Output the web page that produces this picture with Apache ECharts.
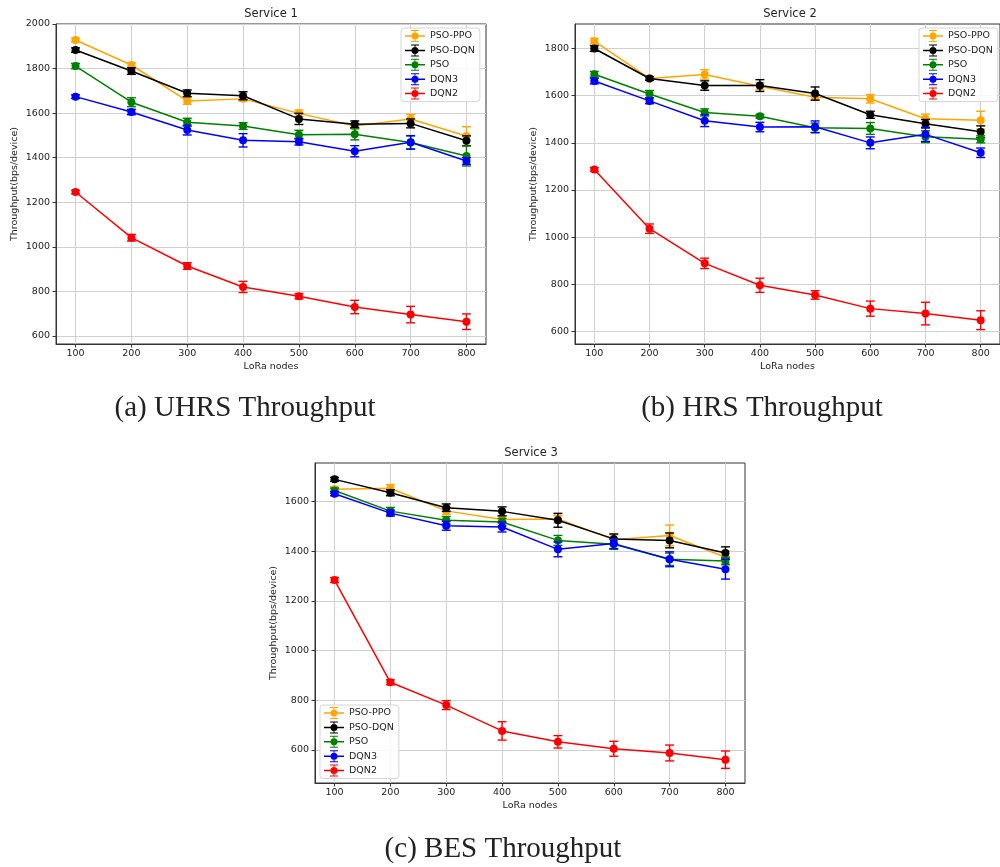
<!DOCTYPE html>
<html>
<head>
<meta charset="utf-8">
<script src="https://cdn.jsdelivr.net/npm/echarts@6/dist/echarts.min.js"></script>
<style>
  html, body { margin: 0; padding: 0; background: #fff; }
  #chart { width: 1000px; height: 867px; }
</style>
</head>
<body>
<div id="chart"></div>
<script>
// LoRa nodes on the x axis
const nodes = [100, 200, 300, 400, 500, 600, 700, 800];
const methods = ['PSO-PPO', 'PSO-DQN', 'PSO', 'DQN3', 'DQN2'];
const xTicks = [100, 200, 300, 400, 500, 600, 700, 800];
const yTicks1 = [600, 800, 1000, 1200, 1400, 1600, 1800, 2000];
const yTicks2 = [600, 800, 1000, 1200, 1400, 1600, 1800];
const yTicks3 = [600, 800, 1000, 1200, 1400, 1600];

// Service 1 (UHRS) - mean and error
const s1PsoPpo = [1928, 1816, 1655, 1664, 1599, 1542, 1574, 1497];
const s1PsoPpoErr = [8, 10, 15, 10, 15, 10, 20, 42];
const s1PsoDqn = [1883, 1789, 1689, 1678, 1574, 1550, 1554, 1476];
const s1PsoDqnErr = [10, 15, 15, 18, 25, 15, 20, 22];
const s1Pso = [1811, 1649, 1559, 1542, 1503, 1505, 1468, 1408];
const s1PsoErr = [12, 20, 18, 15, 20, 25, 30, 45];
const s1Dqn3 = [1674, 1605, 1524, 1478, 1472, 1429, 1469, 1385];
const s1Dqn3Err = [8, 12, 22, 30, 15, 25, 30, 15];
const s1Dqn2 = [1246, 1041, 914, 820, 778, 730, 696, 664];
const s1Dqn2Err = [8, 15, 15, 25, 12, 30, 37, 35];

// Service 2 (HRS)
const s2PsoPpo = [1831, 1673, 1690, 1640, 1593, 1587, 1502, 1496];
const s2PsoPpoErr = [12, 8, 20, 15, 10, 18, 20, 38];
const s2PsoDqn = [1800, 1673, 1643, 1643, 1609, 1519, 1481, 1447];
const s2PsoDqnErr = [12, 8, 20, 25, 28, 15, 18, 25];
const s2Pso = [1691, 1607, 1529, 1513, 1464, 1461, 1426, 1415];
const s2PsoErr = [12, 15, 15, 8, 20, 25, 25, 15];
const s2Dqn3 = [1662, 1578, 1494, 1467, 1468, 1400, 1436, 1358];
const s2Dqn3Err = [12, 12, 25, 20, 25, 25, 30, 20];
const s2Dqn2 = [1287, 1036, 889, 796, 755, 697, 676, 648];
const s2Dqn2Err = [8, 20, 22, 30, 18, 32, 48, 40];

// Service 3 (BES)
const s3PsoPpo = [1650, 1654, 1563, 1528, 1530, 1447, 1464, 1376];
const s3PsoPpoErr = [10, 15, 15, 15, 15, 20, 42, 25];
const s3PsoDqn = [1690, 1636, 1576, 1561, 1525, 1450, 1444, 1393];
const s3PsoDqnErr = [8, 12, 15, 18, 28, 20, 30, 25];
const s3Pso = [1645, 1562, 1525, 1518, 1444, 1428, 1368, 1361];
const s3PsoErr = [10, 15, 15, 15, 20, 20, 25, 15];
const s3Dqn3 = [1632, 1554, 1503, 1498, 1408, 1431, 1368, 1328];
const s3Dqn3Err = [8, 12, 18, 20, 30, 20, 30, 40];
const s3Dqn2 = [1284, 872, 780, 676, 632, 604, 587, 560];
const s3Dqn2Err = [10, 10, 18, 37, 25, 30, 32, 35];

const colors = ['#ffa500', '#000000', '#008000', '#0000ff', '#ff0000'];

const services = [
  { means: [s1PsoPpo, s1PsoDqn, s1Pso, s1Dqn3, s1Dqn2], errs: [s1PsoPpoErr, s1PsoDqnErr, s1PsoErr, s1Dqn3Err, s1Dqn2Err], ticks: yTicks1, min: 564, max: 2000 },
  { means: [s2PsoPpo, s2PsoDqn, s2Pso, s2Dqn3, s2Dqn2], errs: [s2PsoPpoErr, s2PsoDqnErr, s2PsoErr, s2Dqn3Err, s2Dqn2Err], ticks: yTicks2, min: 547, max: 1904 },
  { means: [s3PsoPpo, s3PsoDqn, s3Pso, s3Dqn3, s3Dqn2], errs: [s3PsoPpoErr, s3PsoDqnErr, s3PsoErr, s3Dqn3Err, s3Dqn2Err], ticks: yTicks3, min: 466, max: 1756 }
];

const FONT = 'DejaVu Sans';
const TXT = '#222';

// legend icon: line + errorbar + circle marker (all sub-paths clockwise)
const legendIcon = 'path://M0,10.5L40,10.5L40,13.5L0,13.5Z' +
  'M19,0L21,0L21,24L19,24Z' +
  'M12,0L28,0L28,2L12,2Z' +
  'M12,22L28,22L28,24L12,24Z' +
  'M13,12A7,7 0 1,1 27,12A7,7 0 1,1 13,12Z';

function errorBar(params, api) {
  const x = api.value(0);
  const y = api.value(1);
  const e = api.value(2);
  const top = api.coord([x, y + e]);
  const bot = api.coord([x, y - e]);
  const hw = 4.5;
  const style = { stroke: api.visual('color'), lineWidth: 1.4, fill: null };
  return {
    type: 'group',
    children: [
      { type: 'line', shape: { x1: top[0], y1: top[1], x2: bot[0], y2: bot[1] }, style: style },
      { type: 'line', shape: { x1: top[0] - hw, y1: top[1], x2: top[0] + hw, y2: top[1] }, style: style },
      { type: 'line', shape: { x1: bot[0] - hw, y1: bot[1], x2: bot[0] + hw, y2: bot[1] }, style: style }
    ]
  };
}

const grids = [
  { left: 56, top: 24, width: 430, height: 320 },
  { left: 575, top: 24, width: 430, height: 320 },
  { left: 315, top: 463, width: 430, height: 320 }
];

const xAxes = [];
const yAxes = [];
const series = [];

services.forEach(function (svc, g) {
  xAxes.push({
    type: 'value', gridIndex: g, min: 65, max: 835,
    name: 'LoRa nodes', nameLocation: 'middle', nameGap: 18,
    nameTextStyle: { fontFamily: FONT, fontSize: 9.5, color: TXT },
    axisLine: { show: true, onZero: false, lineStyle: { color: '#333', width: 1 } },
    axisTick: { show: true, customValues: xTicks, length: 3.5, lineStyle: { color: '#333' } },
    axisLabel: { customValues: xTicks, margin: 5, fontFamily: FONT, fontSize: 9.5, color: TXT, formatter: function (v) { return String(v); } },
    splitLine: { show: true, lineStyle: { color: '#d0d0d0', width: 1 } }
  });
  yAxes.push({
    type: 'value', gridIndex: g, min: svc.min, max: svc.max,
    name: 'Throughput(bps/device)', nameLocation: 'middle', nameGap: 36, nameRotate: 90,
    nameTextStyle: { fontFamily: FONT, fontSize: 9.5, color: TXT },
    axisLine: { show: true, onZero: false, lineStyle: { color: '#333', width: 1 } },
    axisTick: { show: true, customValues: svc.ticks, length: 3.5, lineStyle: { color: '#333' } },
    axisLabel: { customValues: svc.ticks, margin: 6, fontFamily: FONT, fontSize: 9.5, color: TXT, formatter: function (v) { return String(v); } },
    splitLine: { show: true, lineStyle: { color: '#d0d0d0', width: 1 } }
  });
  methods.forEach(function (name, i) {
    const pts = nodes.map(function (n, k) { return [n, svc.means[i][k]]; });
    const errPts = nodes.map(function (n, k) { return [n, svc.means[i][k], svc.errs[i][k]]; });
    series.push({
      type: 'custom', name: name, xAxisIndex: g, yAxisIndex: g,
      renderItem: errorBar, data: errPts, encode: { x: 0, y: 1 },
      itemStyle: { color: colors[i] }, z: 2 + i * 2, silent: true
    });
    series.push({
      type: 'line', name: name, xAxisIndex: g, yAxisIndex: g, data: pts,
      symbol: 'circle', symbolSize: 8, showSymbol: true,
      lineStyle: { color: colors[i], width: 1.5 },
      itemStyle: { color: colors[i], borderWidth: 0 },
      z: 3 + i * 2, silent: true
    });
  });
});

function legendAt(left, top) {
  return {
    orient: 'vertical', left: left, top: top,
    itemWidth: 20, itemHeight: 12, itemGap: 2.4,
    padding: [2, 5, 2, 4],
    backgroundColor: 'rgba(255,255,255,0.85)',
    borderColor: '#d4d4d4', borderWidth: 1, borderRadius: 3,
    textStyle: { fontFamily: FONT, fontSize: 9.5, color: TXT },
    itemStyle: { borderWidth: 0, color: 'inherit' },
    selectedMode: false,
    data: methods.map(function (m) { return { name: m, icon: legendIcon }; })
  };
}

function label(text, x, y, size, family) {
  return {
    type: 'text', x: x, y: y, silent: true,
    style: { text: text, fill: TXT, fontSize: size, fontFamily: family, align: 'center', verticalAlign: 'middle' }
  };
}

const option = {
  animation: false,
  backgroundColor: '#fff',
  textStyle: { fontFamily: FONT },
  grid: grids.map(function (gr) { return Object.assign({ show: true, borderColor: '#333', borderWidth: 1, backgroundColor: 'transparent' }, gr); }),
  xAxis: xAxes,
  yAxis: yAxes,
  legend: [legendAt(401, 28), legendAt(919, 28), legendAt(320, 705)],
  series: series,
  graphic: [
    label('Service 1', 271, 14, 11.5, FONT),
    label('Service 2', 790, 14, 11.5, FONT),
    label('Service 3', 531, 453, 11.5, FONT),
    label('(a) UHRS Throughput', 245, 408, 29, 'Liberation Serif'),
    label('(b) HRS Throughput', 762, 408, 29, 'Liberation Serif'),
    label('(c) BES Throughput', 503, 849, 29, 'Liberation Serif')
  ]
};

const myChart = echarts.init(document.getElementById('chart'), null, { renderer: 'canvas' });
myChart.setOption(option);
</script>
</body>
</html>
